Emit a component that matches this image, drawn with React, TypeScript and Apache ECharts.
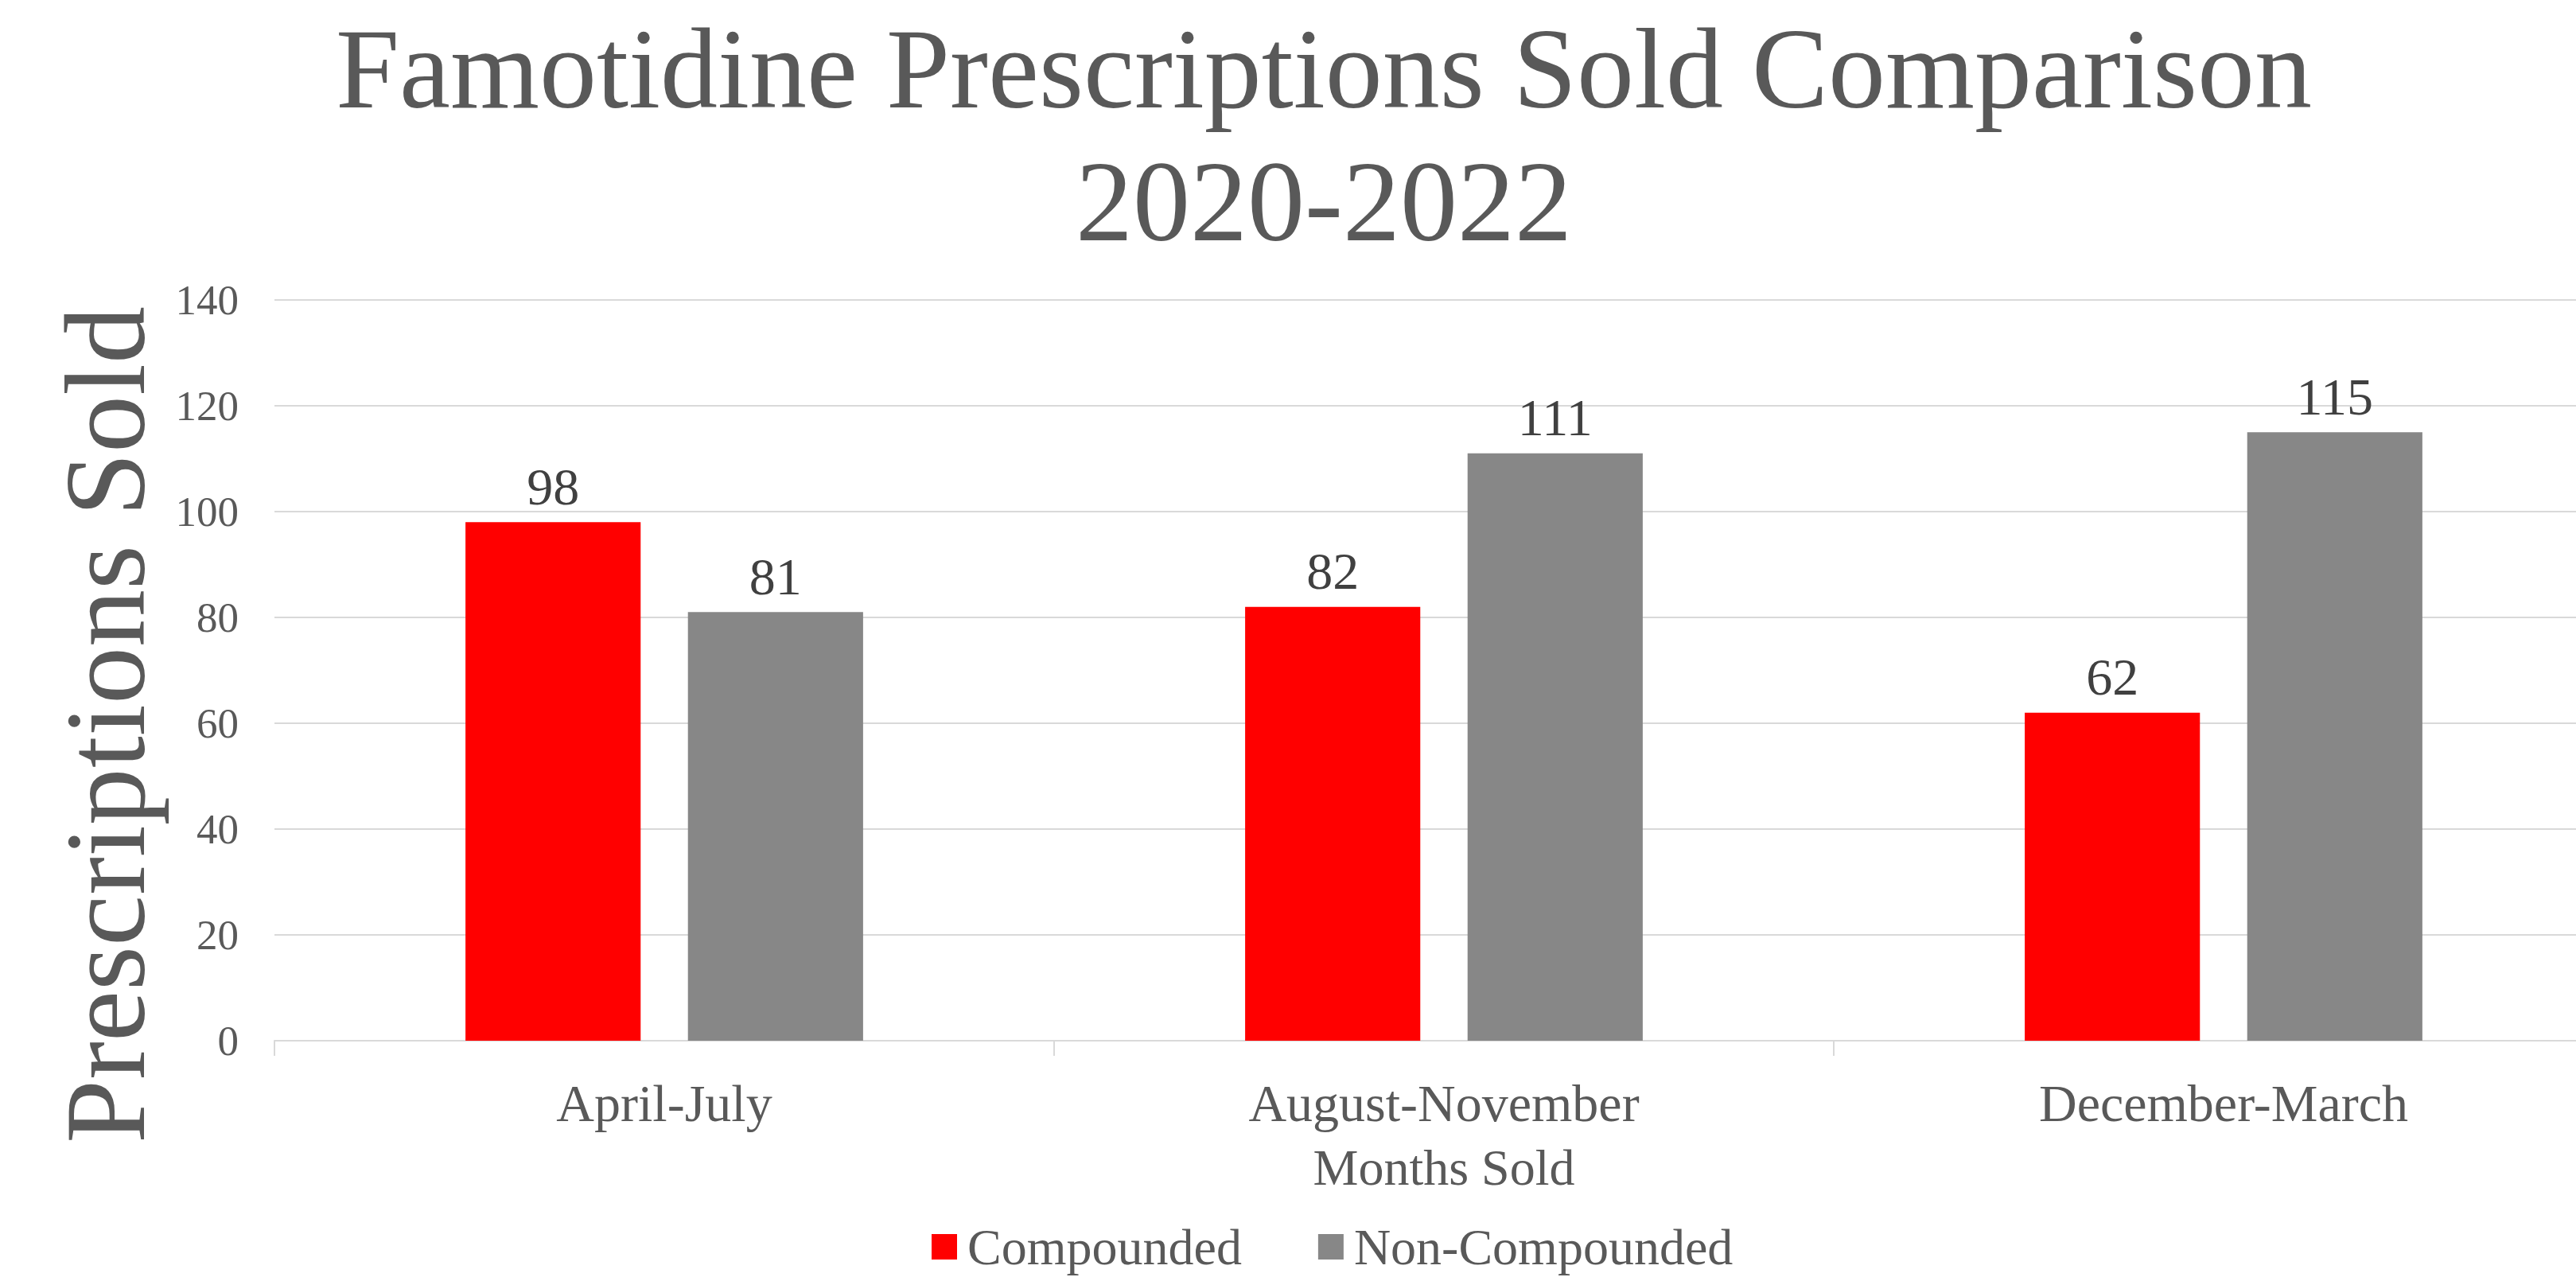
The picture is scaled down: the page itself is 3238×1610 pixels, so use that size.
import React, { useEffect, useRef } from "react";
import * as echarts from "echarts";

const categories = ["April-July", "August-November", "December-March"];
const compounded = [98, 82, 62];
const nonCompounded = [81, 111, 115];
const seriesNames = ["Compounded", "Non-Compounded"];
const titleText = "Famotidine Prescriptions Sold Comparison\n2020-2022";
const yAxisTitle = "Prescriptions Sold";
const xAxisTitle = "Months Sold";

const FONT = "'Liberation Serif', 'Times New Roman', serif";

export default function App() {
  const ref = useRef<HTMLDivElement>(null);
  useEffect(() => {
    if (!ref.current) return;
    document.body.style.overflow = "hidden";
    const chart = echarts.init(ref.current, undefined, { renderer: "svg" });
    chart.setOption({
      animation: false,
      backgroundColor: "#ffffff",
      textStyle: { fontFamily: FONT },
      title: {
        text: titleText,
        left: "center",
        top: 3,
        padding: 0,
        textStyle: {
          fontFamily: FONT,
          fontSize: 144,
          lineHeight: 167,
          fontWeight: "normal",
          color: "#595959",
        },
      },
      legend: {
        data: seriesNames,
        left: 1166,
        top: 1530,
        icon: "rect",
        itemWidth: 32,
        itemHeight: 32,
        itemGap: 96,
        textStyle: {
          fontFamily: FONT,
          fontSize: 64,
          lineHeight: 64,
          color: "#595959",
          padding: [0, 0, 0, 8],
        },
      },
      grid: { left: 345, right: 43, top: 377, bottom: 302, containLabel: false },
      xAxis: {
        type: "category",
        data: categories,
        axisLine: { show: true, lineStyle: { color: "#d9d9d9", width: 2 } },
        axisTick: { show: true, length: 19, lineStyle: { color: "#d9d9d9", width: 2 } },
        axisLabel: { fontFamily: FONT, fontSize: 66, color: "#595959", margin: 45 },
        name: xAxisTitle,
        nameLocation: "middle",
        nameGap: 127,
        nameTextStyle: { fontFamily: FONT, fontSize: 64, color: "#595959" },
      },
      yAxis: {
        type: "value",
        min: 0,
        max: 140,
        interval: 20,
        axisLine: { show: false },
        axisTick: { show: false },
        splitLine: { lineStyle: { color: "#d9d9d9", width: 2 } },
        axisLabel: { fontFamily: FONT, fontSize: 53, color: "#595959", margin: 45 },
      },
      graphic: [
        {
          type: "text",
          x: 132,
          y: 911,
          rotation: Math.PI / 2,
          style: {
            text: yAxisTitle,
            font: `144px ${FONT}`,
            fill: "#595959",
            align: "center",
            verticalAlign: "middle",
          },
        },
      ],
      series: [
        {
          name: seriesNames[0],
          type: "bar",
          data: compounded,
          barGap: "27%",
          barCategoryGap: "49%",
          itemStyle: { color: "#FF0000" },
          label: {
            show: true,
            position: "top",
            distance: 12,
            fontFamily: FONT,
            fontSize: 66,
            color: "#404040",
          },
        },
        {
          name: seriesNames[1],
          type: "bar",
          data: nonCompounded,
          barGap: "27%",
          barCategoryGap: "49%",
          itemStyle: { color: "#878787" },
          label: {
            show: true,
            position: "top",
            distance: 12,
            fontFamily: FONT,
            fontSize: 66,
            color: "#404040",
          },
        },
      ],
    });
    return () => chart.dispose();
  }, []);
  return (
    <div
      ref={ref}
      style={{ position: "fixed", left: 0, top: 0, width: 3328, height: 1610 }}
    />
  );
}
